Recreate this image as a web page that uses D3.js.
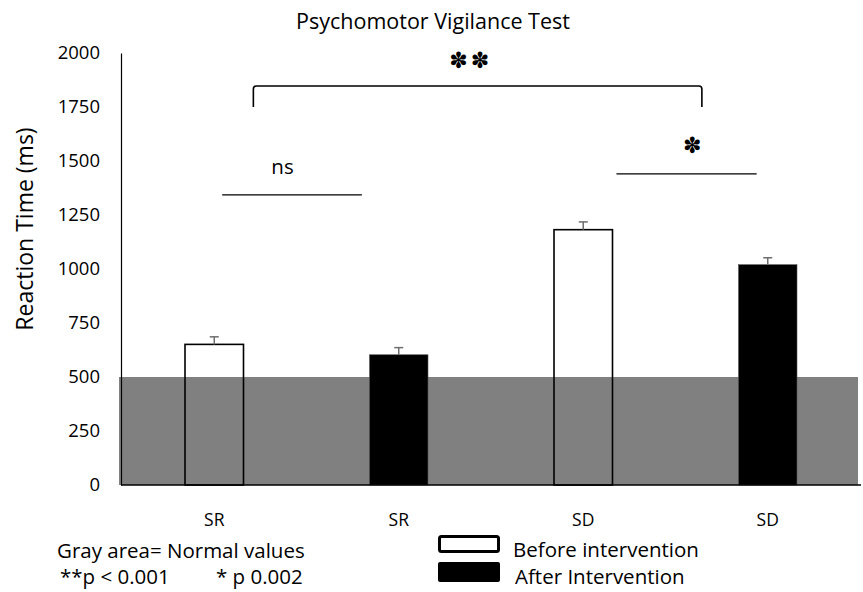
<!DOCTYPE html>
<html>
<head>
<meta charset="utf-8">
<script src="https://cdn.jsdelivr.net/npm/d3@7"></script>
<style>
  body { margin: 0; background: #fff; }
  svg text { font-family: "Open Sans", Lato, sans-serif; fill: #000; }
</style>
</head>
<body>
<svg id="chart"></svg>
<script>
// values
var categories = ["SR", "SR", "SD", "SD"];
var groups = ["Before intervention", "After Intervention", "Before intervention", "After Intervention"];
var means = [651, 603, 1182, 1020];
var errors = [35, 33, 36, 32];
var yTicks = [0, 250, 500, 750, 1000, 1250, 1500, 1750, 2000];
var normalMax = 500;

var width = 863, height = 592;
var margin = {top: 53, right: 3, bottom: 107, left: 121};

var svg = d3.select('#chart').attr('width', width).attr('height', height);

var x = d3.scaleBand()
    .domain(d3.range(categories.length))
    .range([margin.left + 1, width - margin.right])
    .padding(0);
var y = d3.scaleLinear()
    .domain([0, 2000])
    .range([height - margin.bottom, margin.top]);

var barW = x.bandwidth() * 0.317;
function cx(i) { return x(i) + x.bandwidth() / 2; }
// fractional category position (for annotations)
var xi = d3.scaleLinear().domain([0, 3]).range([cx(0), cx(3)]);

// gray "normal values" band
svg.append('rect')
    .attr('x', margin.left - 2)
    .attr('y', y(normalMax))
    .attr('width', width - margin.right - 2 - (margin.left - 2))
    .attr('height', y(0) - y(normalMax))
    .attr('fill', '#808080');

// bars
svg.selectAll('.bar')
    .data(means)
    .enter().append('rect')
    .attr('class', 'bar')
    .attr('x', (d, i) => cx(i) - barW / 2)
    .attr('y', d => y(d))
    .attr('width', barW)
    .attr('height', d => y(0) - y(d))
    .attr('fill', (d, i) => groups[i] === 'Before intervention' ? 'none' : '#000')
    .attr('stroke', (d, i) => groups[i] === 'Before intervention' ? '#000' : '#555')
    .attr('stroke-width', (d, i) => groups[i] === 'Before intervention' ? 1.6 : 0.6);

// error bars (upper only)
var eb = svg.selectAll('.err').data(means).enter().append('g').attr('class', 'err')
    .attr('stroke', '#6e6e6e').attr('stroke-width', 1.5);
eb.append('line')
    .attr('x1', (d, i) => cx(i)).attr('x2', (d, i) => cx(i))
    .attr('y1', d => y(d)).attr('y2', (d, i) => y(d + errors[i]));
eb.append('line')
    .attr('x1', (d, i) => cx(i) - 4.5).attr('x2', (d, i) => cx(i) + 4.5)
    .attr('y1', (d, i) => y(d + errors[i])).attr('y2', (d, i) => y(d + errors[i]));

// axes
var yAxis = svg.append('g')
    .attr('transform', 'translate(' + margin.left + ',0)')
    .call(d3.axisLeft(y).tickValues(yTicks).tickFormat(d3.format('d')).tickSize(0).tickPadding(21));
yAxis.select('.domain').attr('stroke', '#000').attr('stroke-width', 1.2);
yAxis.selectAll('text').style('font-size', '18.5px').style('font-family', '"Open Sans", sans-serif');

svg.append('line')
    .attr('x1', margin.left).attr('x2', width - margin.right + 1)
    .attr('y1', y(0)).attr('y2', y(0))
    .attr('stroke', '#000').attr('stroke-width', 1.5);

// x labels (top slightly cut in the original)
svg.append('clipPath').attr('id', 'xclip')
    .append('rect').attr('x', 0).attr('y', 512).attr('width', width).attr('height', 30);
svg.append('g').attr('clip-path', 'url(#xclip)')
    .selectAll('text').data(categories).enter().append('text')
    .attr('x', (d, i) => cx(i))
    .attr('y', 526)
    .attr('text-anchor', 'middle')
    .style('font-size', '17.5px')
    .text(d => d);

// title and y label
svg.append('text')
    .attr('x', 433).attr('y', 29)
    .attr('text-anchor', 'middle')
    .style('font-size', '21.5px')
    .text('Psychomotor Vigilance Test');

svg.append('text')
    .attr('transform', 'translate(33,' + 229 + ') rotate(-90)')
    .attr('text-anchor', 'middle')
    .style('font-size', '23px')
    .text('Reaction Time (ms)');

// significance annotations
var ann = svg.append('g').attr('stroke', '#000').attr('fill', 'none').attr('stroke-width', 1.3);
ann.append('line')
    .attr('x1', xi(0.043)).attr('x2', xi(0.80))
    .attr('y1', y(1343)).attr('y2', y(1343));
ann.append('line')
    .attr('x1', xi(2.18)).attr('x2', xi(2.94))
    .attr('y1', y(1440)).attr('y2', y(1440));
var bx0 = xi(0.212), bx1 = xi(2.643), by0 = y(1847), by1 = y(1750), r = 3;
ann.append('path')
    .attr('stroke-width', 1.6)
    .attr('d', 'M' + bx0 + ',' + by1 + 'L' + bx0 + ',' + (by0 + r) +
        'Q' + bx0 + ',' + by0 + ' ' + (bx0 + r) + ',' + by0 +
        'L' + (bx1 - r) + ',' + by0 +
        'Q' + bx1 + ',' + by0 + ' ' + bx1 + ',' + (by0 + r) +
        'L' + bx1 + ',' + by1);

svg.append('text')
    .attr('x', xi(0.37)).attr('y', y(1343) - 21)
    .attr('text-anchor', 'middle')
    .style('font-size', '20.5px')
    .text('ns');
svg.append('text')
    .attr('x', xi(1.39)).attr('y', y(1847) - 18)
    .attr('text-anchor', 'middle')
    .style('font-family', '"DejaVu Sans"')
    .style('font-size', '22px')
    .style('letter-spacing', '3px')
    .text('\u273D\u273D');
svg.append('text')
    .attr('x', xi(2.59)).attr('y', y(1440) - 21)
    .attr('text-anchor', 'middle')
    .style('font-family', '"DejaVu Sans"')
    .style('font-size', '22px')
    .text('\u273D');

// notes and legend
svg.append('text').attr('x', 57).attr('y', 558).style('font-size', '20.5px')
    .text('Gray area= Normal values');
svg.append('text').attr('x', 60).attr('y', 584).style('font-size', '20.5px')
    .text('**p < 0.001');
svg.append('text').attr('x', 216).attr('y', 584).style('font-size', '20.5px')
    .text('* p 0.002');

var legend = svg.append('g');
legend.append('rect')
    .attr('x', 439.5).attr('y', 536.5).attr('width', 59).attr('height', 15).attr('rx', 2)
    .attr('fill', '#fff').attr('stroke', '#000').attr('stroke-width', 3);
legend.append('rect')
    .attr('x', 438).attr('y', 562).attr('width', 62).attr('height', 20).attr('rx', 2)
    .attr('fill', '#000');
legend.append('text').attr('x', 513).attr('y', 557).style('font-size', '20.5px')
    .text('Before intervention');
legend.append('text').attr('x', 515).attr('y', 584).style('font-size', '20.5px')
    .text('After Intervention');
</script>
</body>
</html>
